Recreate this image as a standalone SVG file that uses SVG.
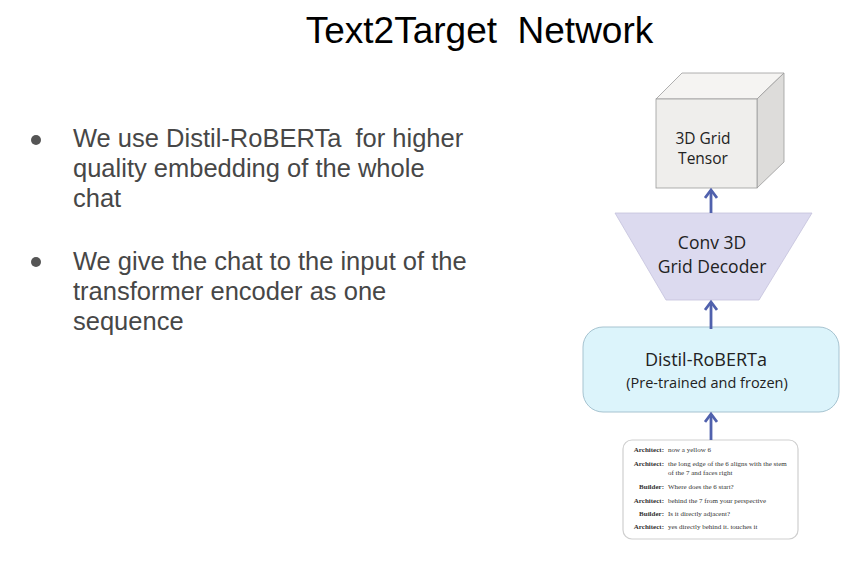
<svg xmlns="http://www.w3.org/2000/svg" width="848" height="567" viewBox="0 0 848 567" xml:space="preserve">
<style>
.title{font-family:"Liberation Sans",Arial,sans-serif;font-size:37px;fill:#000;white-space:pre}
.bul{font-family:"Liberation Sans",Arial,sans-serif;font-size:25.5px;fill:#474747;white-space:pre}
.lbl{font-family:"Open Sans","Noto Sans",sans-serif;fill:#222}
.chat{font-family:"Liberation Serif","Times New Roman",serif;font-size:7px;fill:#333}
.who{font-weight:bold;text-anchor:end}
.conn{stroke:#5061ad;stroke-width:2.8;fill:none}
</style>
<defs>
<marker id="ah" markerUnits="userSpaceOnUse" viewBox="0 0 12 14" markerWidth="12" markerHeight="14" refX="10" refY="7" orient="auto">
<path d="M2,1 L10,7 L2,13" fill="none" stroke="#5061ad" stroke-width="2.8" stroke-linejoin="miter"/>
</marker>
</defs>
<rect width="848" height="567" fill="#fff"/>
<text class="title" x="479.5" y="43" text-anchor="middle">Text2Target  Network</text>
<g id="bullets">
<circle cx="36" cy="140" r="5" fill="#555"/>
<text class="bul" x="73" y="147">We use Distil-RoBERTa  for higher</text>
<text class="bul" x="73" y="177">quality embedding of the whole</text>
<text class="bul" x="73" y="207">chat</text>
<circle cx="36" cy="262" r="5" fill="#555"/>
<text class="bul" x="73" y="270">We give the chat to the input of the</text>
<text class="bul" x="73" y="300">transformer encoder as one</text>
<text class="bul" x="73" y="330">sequence</text>
</g>
<g id="tensor">
<polygon points="656,99 682,73 784,73 757,99" fill="#f5f4f2" stroke="#9c9c9c" stroke-width="0.8"/>
<polygon points="757,99 784,73 784,162 757,188" fill="#dddcda" stroke="#9c9c9c" stroke-width="0.8"/>
<rect x="656" y="99" width="101" height="89" fill="#efeeec" stroke="#9c9c9c" stroke-width="0.8"/>
<text class="lbl" x="703" y="144" font-size="15.5" text-anchor="middle">3D Grid</text>
<text class="lbl" x="703" y="164" font-size="15.5" text-anchor="middle">Tensor</text>
</g>
<g id="decoder">
<polygon points="615,213 812,213 759,300 666,300" fill="#dcdaef" stroke="#c4c2dc" stroke-width="0.8"/>
<text class="lbl" x="712" y="249" font-size="17.5" text-anchor="middle">Conv 3D</text>
<text class="lbl" x="712" y="273" font-size="17.5" text-anchor="middle">Grid Decoder</text>
</g>
<g id="roberta">
<rect x="583" y="327" width="256" height="85" rx="20" fill="#dcf4fb" stroke="#a6c3d0" stroke-width="1"/>
<text class="lbl" x="706" y="366" font-size="18" text-anchor="middle">Distil-RoBERTa</text>
<text class="lbl" x="707" y="388" font-size="14.5" text-anchor="middle">(Pre-trained and frozen)</text>
</g>
<g id="chat">
<rect x="623" y="440" width="175" height="99" rx="9" fill="#fff" stroke="#cfcfcf" stroke-width="1.2"/>
<text class="chat who" x="664" y="452">Architect:</text>
<text class="chat" x="668" y="452">now a yellow 6</text>
<text class="chat who" x="664" y="466">Architect:</text>
<text class="chat" x="668" y="466">the long edge of the 6 aligns with the stem</text>
<text class="chat" x="668" y="475">of the 7 and faces right</text>
<text class="chat who" x="664" y="489">Builder:</text>
<text class="chat" x="668" y="489">Where does the 6 start?</text>
<text class="chat who" x="664" y="503">Architect:</text>
<text class="chat" x="668" y="503">behind the 7 from your perspective</text>
<text class="chat who" x="664" y="516">Builder:</text>
<text class="chat" x="668" y="516">Is it directly adjacent?</text>
<text class="chat who" x="664" y="529">Architect:</text>
<text class="chat" x="668" y="529">yes directly behind it. touches it</text>
</g>
<g id="connectors">
<line class="conn" x1="711" y1="213" x2="711" y2="190" marker-end="url(#ah)"/>
<line class="conn" x1="711" y1="329" x2="711" y2="302" marker-end="url(#ah)"/>
<line class="conn" x1="711" y1="440" x2="711" y2="414" marker-end="url(#ah)"/>
</g>
</svg>
